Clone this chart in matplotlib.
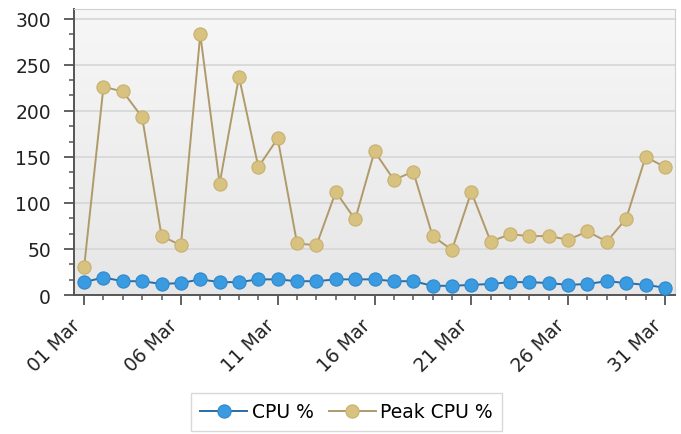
import numpy as np
import matplotlib
matplotlib.use("Agg")
import matplotlib.pyplot as plt
from matplotlib.ticker import AutoMinorLocator, MultipleLocator

# data (1..31 March)
days = list(range(1, 32))
cpu = [14, 19, 15, 15, 12, 13, 17, 14, 14, 17, 17, 15, 15, 17, 17, 17, 15, 15,
       10, 10, 11, 12, 14, 14, 13, 11, 12, 15, 13, 11, 8]
peak_cpu = [30, 226, 221, 193, 64, 54, 283, 121, 237, 139, 170, 56, 54, 112, 82,
            156, 125, 134, 64, 49, 112, 58, 66, 64, 64, 60, 69, 58, 83, 150, 139]
tick_days = [1, 6, 11, 16, 21, 26, 31]
tick_labels = [f"{d:02d} Mar" for d in tick_days]

plt.rcParams['font.family'] = ['DejaVu Sans']

fig = plt.figure(figsize=(6.81, 4.35), dpi=100)
ax = fig.add_axes([0.1087, 0.3195, 0.8825, 0.6585])

xmin, xmax = 0.48, 31.52
ymin, ymax = 0, 311
ax.set_xlim(xmin, xmax)
ax.set_ylim(ymin, ymax)

# soft gray gradient background (lighter at top)
grad = np.linspace(0, 1, 256).reshape(-1, 1)
cmap = matplotlib.colors.LinearSegmentedColormap.from_list("bg", ["#e6e6e6", "#f7f7f7"])
ax.imshow(grad, extent=[xmin, xmax, ymin, ymax], origin='lower', aspect='auto',
          cmap=cmap, zorder=0)

for v in range(50, 301, 50):
    ax.axhline(v, color="#d6d6d6", lw=1.2, zorder=1)

ax.plot(days, peak_cpu, color="#b09a6a", lw=1.4, marker='o', markersize=9.5,
        markerfacecolor="#d8c27f", markeredgecolor="#c8b070", markeredgewidth=0.8,
        label="Peak CPU %", zorder=3)
ax.plot(days, cpu, color="#2b6ca3", lw=1.4, marker='o', markersize=9.5,
        markerfacecolor="#3b9be0", markeredgecolor="#2f88cc", markeredgewidth=0.8,
        label="CPU %", zorder=4)

ax.set_xticks(tick_days)
ax.set_xticklabels(tick_labels, rotation=45, ha='right')
ax.xaxis.set_minor_locator(MultipleLocator(1))
ax.yaxis.set_major_locator(MultipleLocator(50))
ax.yaxis.set_minor_locator(AutoMinorLocator(3))

ax.tick_params(axis='both', which='major', labelsize=13.5, colors="#555555",
               labelcolor="#222222", length=7.5, width=1.3)
ax.tick_params(axis='both', which='minor', colors="#555555", length=3.8, width=1.1)
ax.tick_params(axis='x', which='major', pad=7)
ax.tick_params(axis='y', which='major', pad=9)

for s in ['top', 'right']:
    ax.spines[s].set_color("#d0d0d0")
for s in ['left', 'bottom']:
    ax.spines[s].set_color("#555555")
    ax.spines[s].set_linewidth(1.4)

handles, labels = ax.get_legend_handles_labels()
leg = fig.legend(handles[::-1], labels[::-1], loc='upper center',
                 bbox_to_anchor=(0.509, 1 - 394 / 435),
                 ncol=2, fontsize=13.5, frameon=True, fancybox=False,
                 handlelength=2.5, columnspacing=0.8, handletextpad=0.25,
                 borderpad=0.5, borderaxespad=0)
leg.get_frame().set_edgecolor("#cfcfcf")
leg.get_frame().set_linewidth(1.0)

fig.savefig("out.png", dpi=100)
